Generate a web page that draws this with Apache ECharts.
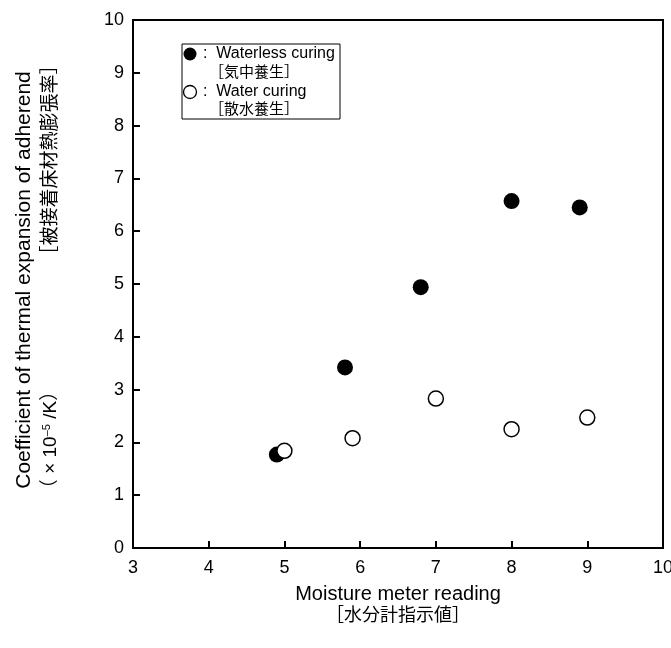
<!DOCTYPE html>
<html>
<head>
<meta charset="utf-8">
<script src="https://cdn.jsdelivr.net/npm/echarts@6/dist/echarts.min.js"></script>
<style>
  html, body { margin: 0; padding: 0; background: #fff; }
  #chart { width: 671px; height: 648px; }
</style>
</head>
<body>
<div id="chart"></div>
<script>
// Moisture meter reading vs. coefficient of thermal expansion of the adherend
const waterlessX = [4.9, 5.8, 6.8, 8.0, 8.9];
const waterlessY = [1.77, 3.42, 4.94, 6.57, 6.45];
const waterX = [5.0, 5.9, 7.0, 8.0, 9.0];
const waterY = [1.84, 2.08, 2.83, 2.25, 2.47];

const xTitle = ['Moisture meter reading', '［水分計指示値］'];
const yTitle = 'Coefficient of thermal expansion of adherend';
const yUnit = '（ × 10{sup|–5} /K）';
const yTitleJa = '［被接着床材熱膨張率］';
const legendNames = ['Waterless curing', 'Water curing'];
const legendNamesJa = ['［気中養生］', '［散水養生］'];

const FONT = '"Liberation Sans", Arial, "Noto Sans CJK JP", sans-serif';
const chart = echarts.init(document.getElementById('chart'), null, { renderer: 'canvas' });

const pairs = (xs, ys) => xs.map((x, i) => [x, ys[i]]);

const grid = { left: 133, right: 8, top: 20, bottom: 100 };
const plotMidY = grid.top + (648 - grid.top - grid.bottom) / 2;
const plotMidX = grid.left + (671 - grid.left - grid.right) / 2;

const axisCommon = {
  type: 'value', interval: 1,
  axisLine: { show: true, lineStyle: { color: '#000', width: 2 } },
  axisTick: { show: true, inside: true, length: 7, lineStyle: { color: '#000', width: 2 } },
  splitLine: { show: false }
};

chart.setOption({
  animation: false,
  backgroundColor: '#fff',
  grid: Object.assign({
    show: true, borderColor: '#000', borderWidth: 2, backgroundColor: 'transparent',
    containLabel: false, outerBoundsMode: 'none'
  }, grid),
  xAxis: Object.assign({}, axisCommon, {
    min: 3, max: 10,
    axisLabel: { color: '#000', fontSize: 18, fontFamily: FONT, margin: 11 }
  }),
  yAxis: Object.assign({}, axisCommon, {
    min: 0, max: 10,
    axisLabel: { color: '#000', fontSize: 18, fontFamily: FONT, margin: 9 }
  }),
  series: [
    {
      name: legendNames[0], type: 'scatter', symbol: 'circle', symbolSize: 16,
      itemStyle: { color: '#000', opacity: 1 },
      data: pairs(waterlessX, waterlessY)
    },
    {
      name: legendNames[1], type: 'scatter', symbol: 'circle', symbolSize: 15,
      itemStyle: { color: '#fff', borderColor: '#000', borderWidth: 1.5, opacity: 1 },
      data: pairs(waterX, waterY)
    }
  ],
  graphic: [
    // legend box
    { type: 'rect', shape: { x: 182, y: 44, width: 158, height: 75 },
      style: { fill: '#fff', stroke: '#000', lineWidth: 1 }, z: 10 },
    { type: 'circle', shape: { cx: 190, cy: 54, r: 6.5 }, style: { fill: '#000' }, z: 11 },
    { type: 'text', x: 203, y: 54, z: 11,
      style: { text: ':  ' + legendNames[0], font: '16px ' + FONT, fill: '#000', verticalAlign: 'middle' } },
    { type: 'text', x: 209, y: 73, z: 11,
      style: { text: legendNamesJa[0], font: '15px ' + FONT, fill: '#000', verticalAlign: 'middle' } },
    { type: 'circle', shape: { cx: 190, cy: 92, r: 6.5 }, style: { fill: '#fff', stroke: '#000', lineWidth: 1.3 }, z: 11 },
    { type: 'text', x: 203, y: 92, z: 11,
      style: { text: ':  ' + legendNames[1], font: '16px ' + FONT, fill: '#000', verticalAlign: 'middle' } },
    { type: 'text', x: 209, y: 110, z: 11,
      style: { text: legendNamesJa[1], font: '15px ' + FONT, fill: '#000', verticalAlign: 'middle' } },
    // x-axis title
    { type: 'text', x: plotMidX, y: 594,
      style: { text: xTitle[0], font: '20px ' + FONT, fill: '#000', align: 'center', verticalAlign: 'middle' } },
    { type: 'text', x: plotMidX, y: 616,
      style: { text: xTitle[1], font: '18px ' + FONT, fill: '#000', align: 'center', verticalAlign: 'middle' } },
    // y-axis title
    { type: 'text', x: 24, y: plotMidY - 4, rotation: Math.PI / 2,
      style: { text: yTitle, font: '21px ' + FONT, fill: '#000', align: 'center', verticalAlign: 'middle' } },
    { type: 'text', x: 51, y: 440, rotation: Math.PI / 2,
      style: { text: yUnit, font: '19px ' + FONT, fill: '#000', align: 'center', verticalAlign: 'middle',
        rich: { sup: { font: '11px ' + FONT, fill: '#000', verticalAlign: 'top', padding: [0, 0, 9, 0] } } } },
    { type: 'text', x: 51, y: 160, rotation: Math.PI / 2,
      style: { text: yTitleJa, font: '19px ' + FONT, fill: '#000', align: 'center', verticalAlign: 'middle' } }
  ]
});
</script>
</body>
</html>
